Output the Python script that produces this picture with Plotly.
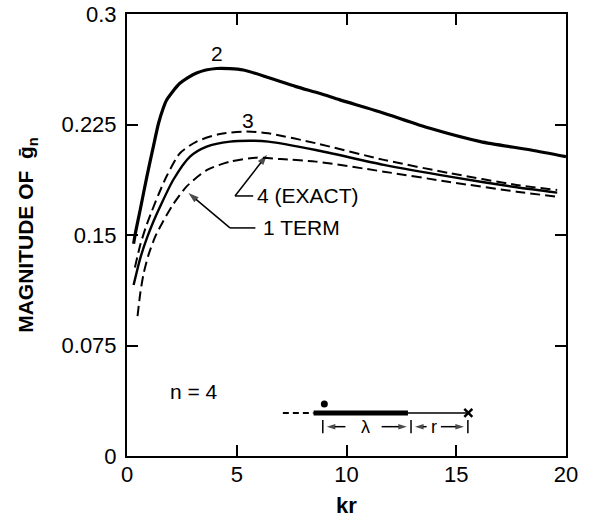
import plotly.graph_objects as go

# ---- data ----
kr_2 = [0.3, 0.38, 0.6, 0.91, 1.2, 1.44, 1.65, 1.8, 2.41, 3.17, 4.08, 5.3, 6.5, 7.7, 8.8, 9.7, 11.5, 13.8, 16.1, 18.4, 20.0]
g_2 = [0.144, 0.151, 0.167, 0.190, 0.210, 0.226, 0.236, 0.2415, 0.253, 0.260, 0.263, 0.262, 0.2565, 0.2507, 0.246, 0.2417, 0.2337, 0.2224, 0.2134, 0.2077, 0.2032]

kr_3 = [0.36, 0.6, 0.85, 1.1, 1.45, 1.81, 2.41, 3.17, 4.24, 5.45, 6.44, 8.6, 11.7, 14.7, 17.75, 19.6]
g_3 = [0.128, 0.143, 0.155, 0.165, 0.178, 0.190, 0.2055, 0.2134, 0.2186, 0.2202, 0.219, 0.2123, 0.201, 0.192, 0.184, 0.1806]

kr_4 = [0.3, 0.6, 0.91, 1.2, 1.5, 2.11, 2.87, 3.63, 4.69, 5.75, 6.44, 8.6, 11.7, 14.7, 17.75, 19.6]
g_4 = [0.116, 0.134, 0.148, 0.159, 0.169, 0.1875, 0.2032, 0.210, 0.2134, 0.214, 0.2134, 0.2077, 0.1976, 0.1896, 0.1824, 0.1788]

kr_1 = [0.48, 0.61, 0.76, 0.99, 1.29, 1.6, 2.11, 2.72, 3.63, 4.69, 5.9, 7.0, 8.6, 11.7, 14.7, 17.75, 19.6]
g_1 = [0.095, 0.111, 0.124, 0.137, 0.149, 0.158, 0.171, 0.183, 0.194, 0.1998, 0.2025, 0.2015, 0.1998, 0.193, 0.186, 0.1794, 0.176]

x_ticks = [0, 5, 10, 15, 20]
x_ticklabels = ["0", "5", "10", "15", "20"]
y_ticks = [0, 0.075, 0.15, 0.225, 0.3]
y_ticklabels = ["0", "0.075", "0.15", "0.225", "0.3"]

FONT = "Liberation Sans"
BLACK = "black"

fig = go.Figure()
fig.add_trace(go.Scatter(x=kr_2, y=g_2, mode="lines", name="2",
                         line=dict(color=BLACK, width=3.2, shape="spline", smoothing=0.7)))
fig.add_trace(go.Scatter(x=kr_3, y=g_3, mode="lines", name="3",
                         line=dict(color=BLACK, width=2, dash="10px,5px", shape="spline", smoothing=0.7)))
fig.add_trace(go.Scatter(x=kr_4, y=g_4, mode="lines", name="4 (EXACT)",
                         line=dict(color=BLACK, width=2.4, shape="spline", smoothing=0.7)))
fig.add_trace(go.Scatter(x=kr_1, y=g_1, mode="lines", name="1 TERM",
                         line=dict(color=BLACK, width=2, dash="10px,5px", shape="spline", smoothing=0.7)))


def arrow(xt, yt, xh, yh, w=1.5, size=9):
    """line from tail to head with an arrowhead marker at the head"""
    fig.add_trace(go.Scatter(x=[xt, xh], y=[yt, yh], mode="lines+markers", hoverinfo="skip",
                             line=dict(color=BLACK, width=w),
                             marker=dict(symbol="arrow", angleref="previous", size=[0, size],
                                         color=BLACK, line=dict(width=0))))


# ---- inset geometry sketch ----
fig.add_trace(go.Scatter(x=[8.99], y=[0.0353], mode="markers", hoverinfo="skip",
                         marker=dict(color=BLACK, size=7)))
fig.add_trace(go.Scatter(x=[15.55], y=[0.0292], mode="markers", hoverinfo="skip",
                         marker=dict(color=BLACK, size=8, symbol="x-thin", line=dict(color=BLACK, width=2.5))))

arrow(9.95, 0.0199, 9.1, 0.0199, size=9)
arrow(11.6, 0.0199, 12.75, 0.0199, size=9)
arrow(13.65, 0.0199, 13.12, 0.0199, size=9)
arrow(14.3, 0.0199, 15.35, 0.0199, size=9)
# label pointers
arrow(4.92, 0.1765, 6.38, 0.2045, size=11)
arrow(4.69, 0.1548, 2.8, 0.1785, size=11)

shapes = [
    dict(type="line", x0=7.1, x1=8.5, y0=0.0292, y1=0.0292, line=dict(color=BLACK, width=2, dash="6px,4px")),
    dict(type="line", x0=8.5, x1=12.8, y0=0.0292, y1=0.0292, line=dict(color=BLACK, width=5)),
    dict(type="line", x0=12.8, x1=15.5, y0=0.0292, y1=0.0292, line=dict(color=BLACK, width=1.3)),
    dict(type="line", x0=8.92, x1=8.92, y0=0.0155, y1=0.0245, line=dict(color=BLACK, width=1.5)),
    dict(type="line", x0=12.94, x1=12.94, y0=0.0155, y1=0.0245, line=dict(color=BLACK, width=1.5)),
    dict(type="line", x0=15.53, x1=15.53, y0=0.0155, y1=0.0245, line=dict(color=BLACK, width=1.5)),
    # leaders for labels
    dict(type="line", x0=4.92, x1=5.75, y0=0.1765, y1=0.1765, line=dict(color=BLACK, width=1.5)),
    dict(type="line", x0=4.69, x1=5.85, y0=0.1548, y1=0.1548, line=dict(color=BLACK, width=1.5)),
]

ann = []


def label(x, y, text, size=21, xanchor="center"):
    ann.append(dict(x=x, y=y, xref="x", yref="y", text=text, showarrow=False,
                    xanchor=xanchor, yanchor="middle", font=dict(family=FONT, size=size, color=BLACK)))


label(4.1, 0.273, "2")
label(5.5, 0.2275, "3")
label(5.85, 0.1765, "4 (EXACT)", xanchor="left")
label(6.1, 0.1548, "1 TERM", xanchor="left")
label(3.05, 0.0435, "n = 4")
label(10.85, 0.0199, "λ", size=18)
label(14.0, 0.0199, "r", size=18)

axis_common = dict(
    showgrid=False, zeroline=False, showline=True, linecolor=BLACK, linewidth=2,
    mirror="allticks", ticks="inside", ticklen=11, tickwidth=1.5, tickcolor=BLACK,
    tickfont=dict(family=FONT, size=22, color=BLACK), automargin=False,
    ticklabeloverflow="allow",
)

fig.update_layout(
    width=594, height=521,
    margin=dict(l=127, r=28, t=14, b=65),
    plot_bgcolor="white", paper_bgcolor="white",
    showlegend=False,
    shapes=shapes,
    annotations=ann,
    xaxis=dict(range=[0, 20], tickvals=x_ticks, ticktext=x_ticklabels, ticklabelstandoff=-2,
               title=dict(text="<b>kr</b>", font=dict(family=FONT, size=22, color=BLACK), standoff=11),
               **axis_common),
    yaxis=dict(range=[0, 0.3], tickvals=y_ticks, ticktext=y_ticklabels, ticklabelstandoff=4,
               title=dict(text="<b>MAGNITUDE OF  ḡ<sub>n</sub></b>", font=dict(family=FONT, size=21, color=BLACK), standoff=22),
               **axis_common),
)

# remove the browser's default 8px body margin so the figure fills the window exactly
fig.write_html("out.html", config={"displayModeBar": False},
               post_script="document.body.style.margin='0';")
